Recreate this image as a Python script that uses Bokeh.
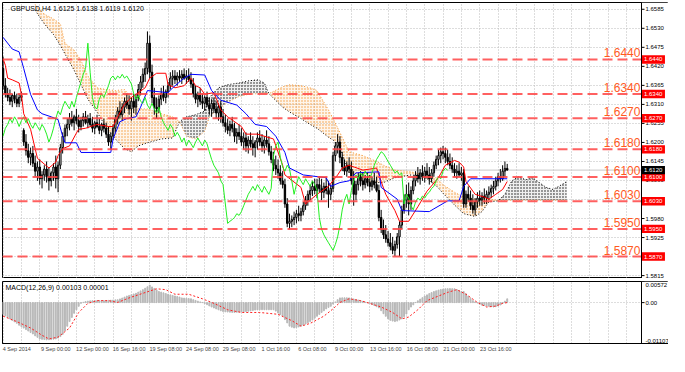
import numpy as np
from bokeh.plotting import figure
from bokeh.models import Range1d, FixedTicker, Label
from bokeh.layouts import column
from bokeh.embed import file_html
from bokeh.resources import INLINE
from bokeh.core.properties import value

# ---------------- data (prices x 1e-4) ----------------
opens = [16414,16364,16341,16330,16319,16336,16325,16313,16330,16235,
16201,16176,16157,16168,16140,16117,16129,16095,16106,16123,
16101,16089,16112,16129,16095,16134,16185,16218,16241,16252,
16269,16257,16274,16263,16246,16263,16274,16257,16269,16252,
16241,16257,16246,16235,16252,16241,16224,16201,16218,16241,
16269,16291,16280,16302,16319,16308,16297,16319,16302,16330,
16353,16375,16397,16414,16487,16403,16330,16302,16297,16325,
16341,16330,16347,16364,16386,16392,16381,16392,16386,16397,
16386,16392,16381,16369,16341,16325,16336,16319,16313,16330,
16308,16297,16313,16297,16285,16302,16274,16257,16246,16235,
16252,16241,16218,16229,16218,16201,16213,16190,16207,16196,
16185,16201,16213,16201,16190,16207,16196,16173,16151,16134,
16123,16112,16089,16078,16022,15966,15972,15977,15983,15994,
15989,16000,16017,16033,16050,16061,16073,16061,16078,16067,
16056,16073,16061,16050,16067,16162,16190,16201,16157,16129,
16117,16134,16123,16089,16050,16078,16101,16089,16078,16095,
16084,16073,16089,16078,16061,15983,15949,15933,15921,15910,
15899,15888,15905,15927,15961,16005,16033,16050,16022,16061,
16089,16106,16095,16112,16101,16117,16106,16095,16112,16134,
16151,16162,16173,16168,16157,16145,16134,16123,16112,16117,
16106,16112,16022,16050,16039,16017,16005,16028,16039,16033,
16045,16039,16050,16056,16067,16073,16089,16101,16095,16117,
16125]
highs = [16448,16386,16358,16353,16341,16347,16341,16341,16347,16241,
16224,16196,16185,16190,16162,16145,16151,16117,16134,16145,
16129,16117,16140,16162,16145,16196,16229,16252,16269,16285,
16291,16280,16297,16280,16274,16285,16291,16280,16285,16274,
16263,16280,16269,16257,16269,16257,16246,16229,16252,16280,
16302,16319,16313,16330,16341,16336,16330,16341,16341,16369,
16392,16414,16431,16521,16509,16425,16358,16330,16336,16358,
16364,16353,16375,16403,16409,16409,16403,16409,16409,16414,
16409,16414,16403,16386,16364,16347,16358,16341,16336,16347,
16330,16325,16330,16319,16313,16319,16297,16280,16269,16263,
16274,16257,16241,16252,16241,16229,16229,16218,16229,16218,
16207,16229,16235,16224,16218,16235,16218,16190,16173,16162,
16151,16134,16117,16095,16039,15994,15989,16000,16005,16017,
16011,16028,16045,16061,16078,16089,16095,16095,16101,16095,
16084,16101,16089,16078,16173,16201,16224,16218,16173,16151,
16145,16157,16145,16117,16089,16112,16117,16112,16106,16112,
16106,16101,16112,16101,16078,16005,15977,15961,15944,15938,
15927,15916,15938,15972,16017,16050,16078,16084,16073,16101,
16117,16129,16123,16134,16129,16140,16129,16123,16145,16162,
16179,16185,16190,16185,16179,16168,16157,16140,16134,16140,
16129,16123,16061,16073,16061,16050,16039,16056,16061,16056,
16067,16061,16073,16078,16089,16101,16112,16123,16134,16145,
16138]
lows = [16353,16330,16319,16308,16302,16313,16302,16302,16319,16190,
16162,16140,16134,16129,16101,16089,16078,16067,16089,16084,
16061,16073,16089,16067,16056,16123,16168,16201,16218,16235,
16246,16235,16252,16229,16235,16246,16252,16241,16246,16229,
16224,16241,16224,16218,16229,16213,16190,16179,16207,16229,
16252,16269,16263,16285,16297,16280,16263,16285,16280,16319,
16336,16358,16375,16397,16386,16313,16280,16269,16285,16308,
16319,16313,16330,16353,16364,16369,16364,16375,16369,16381,
16369,16375,16358,16330,16313,16302,16308,16297,16291,16302,
16280,16274,16285,16269,16263,16257,16246,16229,16224,16218,
16229,16201,16196,16207,16190,16179,16173,16168,16185,16162,
16157,16179,16190,16173,16168,16185,16162,16140,16117,16106,
16095,16078,16067,16011,15955,15949,15955,15961,15966,15972,
15972,15989,16005,16017,16033,16045,16050,16039,16056,16033,
16039,16050,16011,16033,16056,16145,16168,16140,16117,16106,
16101,16112,16078,16017,16033,16061,16073,16061,16067,16073,
16056,16061,16067,16056,15972,15938,15921,15910,15899,15888,
15877,15871,15893,15871,15949,15994,16011,15989,16005,16050,
16073,16084,16078,16089,16084,16095,16078,16084,16101,16123,
16134,16140,16151,16140,16134,16123,16112,16101,16095,16101,
16089,16011,16011,16028,16005,15994,15989,16011,16017,16017,
16022,16022,16033,16039,16050,16061,16073,16084,16089,16101,
16119]
closes = [16364,16341,16330,16319,16336,16325,16313,16330,16336,16201,
16176,16157,16168,16140,16117,16129,16095,16106,16123,16101,
16089,16112,16129,16095,16134,16185,16218,16241,16252,16269,
16257,16274,16263,16246,16263,16274,16257,16269,16252,16241,
16257,16246,16235,16252,16241,16224,16201,16218,16241,16269,
16291,16280,16302,16319,16308,16297,16319,16302,16330,16353,
16375,16397,16414,16487,16403,16330,16302,16297,16325,16341,
16330,16347,16364,16386,16392,16381,16392,16386,16397,16386,
16392,16381,16369,16341,16325,16336,16319,16313,16330,16308,
16297,16313,16297,16285,16302,16274,16257,16246,16235,16252,
16241,16218,16229,16218,16201,16213,16190,16207,16196,16185,
16201,16213,16201,16190,16207,16196,16173,16151,16134,16123,
16112,16089,16078,16022,15966,15972,15977,15983,15994,15989,
16000,16017,16033,16050,16061,16073,16061,16078,16067,16056,
16073,16061,16050,16067,16162,16190,16201,16157,16129,16117,
16134,16123,16089,16050,16078,16101,16089,16078,16095,16084,
16073,16089,16078,16061,15983,15949,15933,15921,15910,15899,
15888,15905,15927,15961,16005,16033,16050,16022,16061,16089,
16106,16095,16112,16101,16117,16106,16095,16112,16134,16151,
16162,16173,16168,16157,16145,16134,16123,16112,16117,16106,
16112,16022,16050,16039,16017,16005,16028,16039,16033,16045,
16039,16050,16056,16067,16073,16089,16101,16095,16117,16125,
16120]

tenkan_bar = [0,1,2,4,7,8,9,12,13,15,17,20,23,24,26,29,32,33,36,41,46,48,50,53,56,58,62,64,67,71,
              72,75,79,82,84,86,88,92,95,98,104,106,111,118,122,123,130,132,137,142,146,148,151,157,
              163,165,167,171,173,177,181,185,190,193,197,199,201,202,206,210,212,215,218,220]
tenkan_val = [16442,16423,16386,16381,16372,16339,16283,16238,16210,16154,16143,16126,16143,16162,
              16182,16190,16227,16238,16241,16252,16246,16246,16274,16311,16330,16339,16358,16386,
              16400,16400,16367,16358,16364,16386,16364,16358,16339,16344,16294,16274,16246,16224,
              16224,16210,16134,16106,16070,16022,16050,16073,16106,16126,16134,16120,16126,16087,
              16050,16003,15972,15972,16014,16059,16098,16134,16148,16143,16129,16087,16050,16042,
              16036,16050,16064,16087]
kijun_bar = [0,4,7,9,12,15,17,21,24,26,27,32,34,47,48,51,54,58,60,63,72,74,79,82,88,91,95,102,106,
             110,115,119,123,125,131,141,143,147,151,154,164,165,172,174,186,188,194,199,201,204,220]
kijun_val = [16504,16470,16462,16414,16339,16294,16283,16274,16266,16218,16199,16199,16171,16171,
             16210,16260,16269,16274,16302,16350,16344,16358,16386,16397,16395,16350,16322,16308,
             16283,16252,16246,16218,16171,16126,16106,16098,16073,16084,16089,16112,16115,16070,
             16036,16003,16000,16008,16031,16031,16073,16095,16095]
span_bar = [14,18,22,25,27,31,34,37,41,45,49,53,56,59,63,69,74,77,80,84,88,90,94,98,103,107,111,114,
            116,122,125,130,134,137,142,144,147,151,157,163,166,171,178,182,185,189,192,197,201,206,
            209,212,216,219,222,225,228,231,234,237,240,243,246]
span_a = [16582,16543,16512,16481,16456,16409,16367,16325,16288,16243,16210,16182,16173,16190,16199,
          16210,16213,16260,16274,16280,16291,16330,16358,16367,16372,16378,16381,16372,16341,16302,
          16288,16269,16252,16241,16215,16207,16185,16112,16087,16084,16084,16098,16106,16103,16095,
          16075,16053,16019,15994,15986,16000,16028,16031,16050,16089,16101,16092,16098,16084,16070,
          16064,16075,16087]
span_b = [16599,16571,16557,16543,16487,16467,16437,16392,16358,16353,16350,16353,16330,16297,16297,
          16283,16274,16260,16218,16210,16232,16274,16297,16316,16333,16339,16341,16344,16341,16361,
          16367,16364,16358,16350,16294,16269,16229,16173,16162,16145,16134,16120,16115,16109,16106,
          16098,16078,16056,16042,16036,16036,16036,16033,16033,16033,16033,16033,16033,16033,16033,
          16033,16033,16033]

# MACD main (histogram) and signal, x 1e-5
macd_hist = [-316,-360,-400,-440,-480,-520,-560,-613,-650,-690,
-730,-770,-810,-850,-900,-940,-983,-995,-1000,-1008,
-1005,-1000,-990,-983,-960,-920,-860,-760,-640,-514,
-400,-290,-193,-100,-20,10,30,40,48,52,
54,54,55,55,54,54,60,65,70,75,
79,100,125,150,178,195,215,235,252,285,
318,351,390,430,474,425,385,345,301,285,
265,245,227,210,195,180,165,150,128,122,
116,110,104,80,60,40,20,5,-25,-55,
-90,-119,-145,-170,-195,-220,-242,-250,-255,-260,
-265,-267,-262,-257,-252,-247,-242,-232,-222,-212,
-202,-197,-193,-193,-193,-193,-193,-193,-193,-230,
-280,-320,-366,-460,-550,-637,-665,-687,-675,-660,
-637,-610,-580,-545,-514,-470,-420,-370,-320,-267,
-220,-170,-130,-100,-40,20,80,128,130,130,
130,128,115,100,85,70,54,35,15,0,
-20,-50,-80,-110,-143,-220,-300,-370,-440,-480,
-500,-514,-500,-470,-440,-380,-310,-193,-120,-60,
5,50,95,135,178,210,245,275,301,320,
340,355,365,375,378,380,378,375,355,330,
301,301,240,175,115,54,20,-10,-40,-69,
-80,-90,-100,-110,-119,-110,-90,-65,-20,40,
103]
signal_bar = [0,6,12,17,20,24,29,33,37,41,46,50,55,61,67,71,75,81,87,92,98,104,112,120,126,130,134,
              140,144,147,151,156,160,165,170,174,177,181,185,190,194,198,202,207,211,215,218,220]
signal_val = [-366,-514,-687,-884,-983,-934,-687,-267,-20,54,54,5,128,252,375,351,227,227,104,-20,
              -193,-267,-267,-316,-489,-637,-563,-366,-168,5,104,54,-20,-119,-267,-440,-390,-193,54,
              178,277,351,227,5,-119,-94,-20,1]

levels = [1.6440, 1.6340, 1.6270, 1.6180, 1.6100, 1.6030, 1.5950, 1.5870]
last_price = 1.6120
price_ticks = [1.5815, 1.5870, 1.5925, 1.5980, 1.6035, 1.6090, 1.6145, 1.6200,
               1.6255, 1.6310, 1.6365, 1.6420, 1.6475, 1.6530, 1.6585]
macd_ticks = [-0.01107, 0.0, 0.00572]
macd_tick_labels = ["-0.01107", "0.00", "0.00572"]
date_labels = ["4 Sep 2014", "9 Sep 00:00", "12 Sep 00:00", "16 Sep 16:00", "19 Sep 08:00",
               "24 Sep 08:00", "29 Sep 08:00", "1 Oct 16:00", "6 Oct 08:00", "9 Oct 00:00",
               "13 Oct 16:00", "16 Oct 08:00", "21 Oct 00:00", "23 Oct 16:00"]
date_label_bars = [16 * i for i in range(len(date_labels))]
title_text = "GBPUSD,H4  1.6125 1.6138 1.6119 1.6120"
macd_title = "MACD(12,26,9) 0.00103 0.00001"

# ---------------- geometry ----------------
FONT = "Liberation Sans"
X0, XA = -0.25, 278.6          # visible bar range of the chart area; XA = price-axis line
PA, AX = 639, 27               # chart area px, axis strip px
BPX = PA / (XA - X0)           # px per bar
X1 = XA + AX / BPX
FW = PA + AX
XR = Range1d(X0, X1)
GRID_X = list(range(0, 279, 8))
Y0, Y1 = 1.58066, 1.66046
MH = 276
M0, M1 = -0.01107, 0.00572
QH = 62

O = np.array(opens) / 1e4
H = np.array(highs) / 1e4
L = np.array(lows) / 1e4
C = np.array(closes) / 1e4
idx = np.arange(len(C))
A = np.array(span_a) / 1e4
B = np.array(span_b) / 1e4
sb = np.array(span_bar)


def style_grid(fig, xt, yt):
    fig.xgrid.ticker = FixedTicker(ticks=xt)
    fig.ygrid.ticker = FixedTicker(ticks=yt)
    for g in [fig.xgrid[0], fig.ygrid[0]]:
        g.grid_line_color = "#BBBBBB"
        g.grid_line_dash = "1 2"


def axis_strip(fig, lo, hi):
    fig.quad(left=[XA], right=[X1], bottom=[lo], top=[hi], fill_color="white", line_color=None)
    fig.segment(x0=[XA], y0=[lo], x1=[XA], y1=[hi], line_color="black", line_width=1)


# ---------------- main panel ----------------
p = figure(frame_width=FW, frame_height=MH, x_range=XR, y_range=Range1d(Y0, Y1),
           y_axis_location=None, x_axis_location=None, output_backend="svg",
           toolbar_location=None, min_border_left=2, min_border_right=0,
           min_border_top=2, min_border_bottom=0, background_fill_color="white",
           border_fill_color="white")
p.outline_line_color = "black"
style_grid(p, GRID_X, price_ticks)

# bid line
p.segment(x0=[X0], y0=[last_price], x1=[XA], y1=[last_price], line_color="#C8C8C8", line_width=1)

# ichimoku cloud (dotted hatch like MT4)
ORANGE = "#F59A3C"
p.varea(x=sb, y1=A, y2=np.maximum(A, B), fill_color=ORANGE, fill_alpha=0.10, hatch_pattern=".",
        hatch_color=ORANGE, hatch_scale=3, hatch_weight=1.6)
p.varea(x=sb, y1=B, y2=np.maximum(A, B), fill_color="#000000", fill_alpha=0.06, hatch_pattern=".",
        hatch_color="#111111", hatch_scale=3, hatch_weight=1.2)
p.line(sb, A, color="black", line_dash="1 2", line_width=1)
p.line(sb, B, color=ORANGE, line_dash="1 2", line_width=1)

# candles
p.segment(idx, H, idx, L, color="black", line_width=1)
bull = C >= O
p.vbar(x=idx[bull], bottom=O[bull], top=C[bull], width=0.6, fill_color="white",
       line_color="black", line_width=1)
p.vbar(x=idx[~bull], bottom=C[~bull], top=O[~bull], width=0.6, fill_color="black",
       line_color="black", line_width=1)

# ichimoku lines
p.line(tenkan_bar, np.array(tenkan_val) / 1e4, color="#FF0000", line_width=1)
p.line(kijun_bar, np.array(kijun_val) / 1e4, color="#0000FF", line_width=1)
p.line(idx[26:] - 26, C[26:], color="#22EE22", line_width=1)

# horizontal levels
n = len(levels)
p.segment(x0=[X0] * n, y0=levels, x1=[XA] * n, y1=levels, line_color="#FF4444",
          line_width=2, line_dash="10 5", line_alpha=0.85)
p.text(x=[XA - 0.45] * n, y=levels, text=[f"{lv:.4f}" for lv in levels],
       text_align="right", text_baseline="bottom", y_offset=-2,
       text_font=value(FONT), text_font_size="12px", text_color="#FF5A1E")

# price axis (drawn in the strip)
axis_strip(p, Y0, Y1)
TK = 3 / BPX
nt = len(price_ticks)
p.segment(x0=[XA] * nt, y0=price_ticks, x1=[XA + TK] * nt, y1=price_ticks, line_color="black")
p.text(x=[XA] * nt, y=price_ticks, x_offset=4, text=[f"{t:.4f}" for t in price_ticks],
       text_align="left", text_baseline="middle", text_font=value(FONT),
       text_font_size="6px", text_color="black")
hh = 4.2 * (Y1 - Y0) / MH
bw = 23 / BPX
p.quad(left=[XA + 0.2] * n, right=[XA + 0.2 + bw] * n, bottom=[lv - hh for lv in levels],
       top=[lv + hh for lv in levels], fill_color="#FF0000", line_color=None)
p.text(x=[XA] * n, y=levels, x_offset=2.5, text=[f"{lv:.4f}" for lv in levels],
       text_align="left", text_baseline="middle", text_font=value(FONT),
       text_font_size="6px", text_color="white")
p.quad(left=[XA + 0.2], right=[XA + 0.2 + bw], bottom=[last_price - hh],
       top=[last_price + hh], fill_color="black", line_color=None)
p.text(x=[XA], y=[last_price], x_offset=2.5, text=[f"{last_price:.4f}"],
       text_align="left", text_baseline="middle", text_font=value(FONT),
       text_font_size="6px", text_color="white")

p.add_layout(Label(x=X0, y=Y1, x_offset=8, y_offset=-2, text=title_text,
                   text_font=FONT, text_font_size="7px", text_color="black",
                   text_baseline="top", text_align="left"))

# ---------------- MACD panel ----------------
q = figure(frame_width=FW, frame_height=QH, x_range=XR, y_range=Range1d(M0, M1),
           y_axis_location=None, output_backend="svg", toolbar_location=None,
           min_border_left=2, min_border_right=0, min_border_top=3, min_border_bottom=0,
           background_fill_color="white", border_fill_color="white")
q.outline_line_color = "black"
style_grid(q, GRID_X, [0.0])
q.vbar(x=idx, top=np.array(macd_hist) / 1e5, bottom=0, width=0.4, color="#B8B8B8")
q.line(signal_bar, np.array(signal_val) / 1e5, color="#FF2020", line_dash="2 2", line_width=1)

axis_strip(q, M0, M1)
q.segment(x0=[XA] * 3, y0=macd_ticks, x1=[XA + TK] * 3, y1=macd_ticks, line_color="black")
for t, s, bl, dy in zip(macd_ticks, macd_tick_labels, ["bottom", "middle", "top"], [-1, 0, 1]):
    q.text(x=[XA], y=[t], x_offset=4, y_offset=dy, text=[s], text_align="left",
           text_baseline=bl, text_font=value(FONT), text_font_size="6px", text_color="black")

date_ticks = [b + round(len(s) * 2.75 / 2 / BPX) for b, s in zip(date_label_bars, date_labels)]
q.xaxis.ticker = FixedTicker(ticks=date_ticks)
q.xaxis.major_label_overrides = {t: s for t, s in zip(date_ticks, date_labels)}
ax = q.xaxis[0]
ax.major_label_text_font_size = "5.5px"
ax.major_label_text_font = FONT
ax.major_tick_in = 0
ax.major_tick_out = 0
ax.major_tick_line_color = None
ax.minor_tick_line_color = None
ax.major_label_standoff = 2
ax.axis_line_color = "black"

q.add_layout(Label(x=X0, y=M1, x_offset=3, y_offset=-2, text=macd_title,
                   text_font=FONT, text_font_size="7px", text_color="black",
                   text_baseline="top", text_align="left"))

layout = column(p, q, spacing=0)
open("out.html", "w").write(file_html(layout, INLINE))
